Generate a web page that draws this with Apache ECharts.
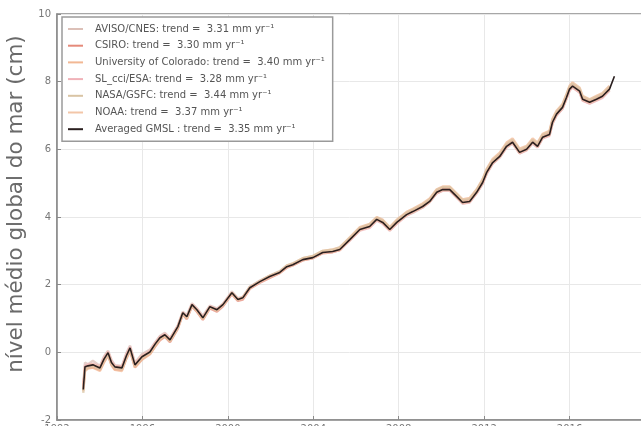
<!DOCTYPE html>
<html>
<head>
<meta charset="utf-8">
<script src="https://cdn.jsdelivr.net/npm/echarts@6/dist/echarts.min.js"></script>
<style>
  html, body { margin: 0; padding: 0; background: #fff; }
  #chart { width: 641px; height: 426px; }
</style>
</head>
<body>
<div id="chart"></div>
<script>
// Sample times (decimal years)
const years = [1993.23, 1993.31, 1993.45, 1993.68, 1994.01, 1994.20, 1994.39, 1994.55, 1994.71, 1995.04,
  1995.25, 1995.42, 1995.65, 1995.98, 1996.35, 1996.60, 1996.82, 1997.05, 1997.29, 1997.66,
  1997.89, 1998.08, 1998.32, 1998.55, 1998.83, 1999.16, 1999.49, 1999.77, 2000.19, 2000.47,
  2000.70, 2001.03, 2001.50, 2001.96, 2002.43, 2002.76, 2003.04, 2003.51, 2003.98, 2004.44,
  2004.91, 2005.24, 2005.71, 2006.18, 2006.64, 2006.97, 2007.25, 2007.58, 2007.91, 2008.37,
  2008.66, 2009.12, 2009.45, 2009.78, 2010.06, 2010.39, 2010.71, 2010.99, 2011.32, 2011.65,
  2011.93, 2012.12, 2012.40, 2012.73, 2013.05, 2013.33, 2013.66, 2013.99, 2014.27, 2014.50,
  2014.74, 2015.06, 2015.20, 2015.39, 2015.67, 2015.86, 2016.00, 2016.14, 2016.47, 2016.61,
  2016.94, 2017.26, 2017.54, 2017.87, 2018.10];

// Global mean sea level per product (cm)
const aviso = [-0.95, -0.30, -0.35, -0.25, -0.40, -0.12, 0.05, -0.22, -0.38, -0.40,
  -0.02, 0.20, -0.30, -0.05, 0.08, 0.30, 0.48, 0.58, 0.42, 0.80,
  1.20, 1.10, 1.45, 1.30, 1.08, 1.38, 1.30, 1.44, 1.80, 1.60,
  1.64, 1.94, 2.12, 2.26, 2.38, 2.55, 2.60, 2.75, 2.82, 2.96,
  2.98, 3.05, 3.32, 3.62, 3.70, 3.90, 3.82, 3.60, 3.82, 4.05,
  4.12, 4.28, 4.44, 4.70, 4.78, 4.78, 4.58, 4.40, 4.44, 4.70,
  4.98, 5.28, 5.58, 5.76, 6.05, 6.18, 5.88, 5.98, 6.18, 6.06,
  6.34, 6.42, 6.76, 7.00, 7.20, 7.50, 7.74, 7.84, 7.68, 7.45,
  7.36, 7.45, 7.54, 7.74];
const csiro = [-1.00, -0.50, -0.46, -0.44, -0.52, -0.28, -0.08, -0.36, -0.50, -0.52,
  -0.18, 0.06, -0.44, -0.20, -0.05, 0.18, 0.36, 0.46, 0.30, 0.70,
  1.12, 0.98, 1.36, 1.20, 0.96, 1.30, 1.20, 1.36, 1.72, 1.52,
  1.56, 1.88, 2.06, 2.20, 2.34, 2.50, 2.57, 2.72, 2.78, 2.93,
  2.96, 3.02, 3.34, 3.66, 3.76, 3.97, 3.88, 3.66, 3.88, 4.10,
  4.20, 4.34, 4.50, 4.77, 4.85, 4.84, 4.64, 4.46, 4.50, 4.77,
  5.06, 5.36, 5.66, 5.84, 6.13, 6.25, 5.95, 6.04, 6.25, 6.13,
  6.40, 6.48, 6.84, 7.08, 7.28, 7.58, 7.82, 7.90, 7.75, 7.52,
  7.42, 7.52, 7.60, 7.82];
const colorado = [-1.15, -0.55, -0.48, -0.45, -0.55, -0.30, -0.10, -0.38, -0.52, -0.55,
  -0.18, 0.05, -0.45, -0.22, -0.06, 0.18, 0.38, 0.48, 0.32, 0.72,
  1.15, 1.00, 1.38, 1.22, 0.98, 1.32, 1.24, 1.40, 1.76, 1.56,
  1.62, 1.92, 2.10, 2.26, 2.38, 2.56, 2.62, 2.78, 2.84, 3.00,
  3.04, 3.10, 3.40, 3.70, 3.80, 4.00, 3.92, 3.70, 3.92, 4.15,
  4.24, 4.40, 4.55, 4.82, 4.90, 4.90, 4.70, 4.52, 4.56, 4.82,
  5.12, 5.42, 5.72, 5.90, 6.20, 6.32, 6.02, 6.10, 6.32, 6.20,
  6.46, 6.55, 6.90, 7.14, 7.34, 7.64, 7.88, 7.98, 7.82, 7.58,
  7.48, 7.58, 7.66, 7.88];
const slcci = [-1.05, -0.40, -0.36, -0.34, -0.42, -0.16, 0.02, -0.26, -0.40, -0.42,
  -0.06, 0.16, -0.34, -0.10, 0.04, 0.28, 0.46, 0.54, 0.40, 0.78,
  1.18, 1.06, 1.42, 1.28, 1.04, 1.36, 1.27, 1.42, 1.77, 1.57,
  1.62, 1.92, 2.10, 2.25, 2.37, 2.54, 2.60, 2.74, 2.80, 2.94,
  2.97, 3.02, 3.30, 3.60, 3.68, 3.90, 3.80, 3.60, 3.80, 4.04,
  4.14, 4.28, 4.44, 4.70, 4.78, 4.78, 4.58, 4.40, 4.43, 4.70,
  4.99, 5.28, 5.58, 5.76, 6.06, 6.18, 5.88, 5.97, 6.18, 6.06,
  6.32, 6.40, 6.76, 7.00, 7.20, 7.50, 7.74, 7.83, 7.68, 7.44,
  7.35, 7.44, 7.52, 7.74];
const nasa = [-1.20, -0.52, -0.45, -0.40, -0.50, -0.24, -0.06, -0.34, -0.46, -0.50,
  -0.14, 0.10, -0.40, -0.16, -0.02, 0.22, 0.40, 0.50, 0.34, 0.74,
  1.16, 1.02, 1.40, 1.24, 1.00, 1.34, 1.24, 1.40, 1.76, 1.56,
  1.62, 1.93, 2.11, 2.27, 2.40, 2.57, 2.63, 2.78, 2.85, 3.00,
  3.03, 3.10, 3.38, 3.68, 3.78, 3.98, 3.90, 3.68, 3.90, 4.13,
  4.22, 4.37, 4.52, 4.80, 4.88, 4.88, 4.68, 4.50, 4.53, 4.80,
  5.10, 5.40, 5.68, 5.86, 6.16, 6.28, 5.98, 6.07, 6.28, 6.16,
  6.43, 6.52, 6.87, 7.11, 7.31, 7.62, 7.85, 7.94, 7.79, 7.55,
  7.46, 7.55, 7.64, 7.85];
const noaa = [-1.08, -0.44, -0.40, -0.36, -0.44, -0.20, 0.00, -0.30, -0.42, -0.45,
  -0.10, 0.12, -0.36, -0.12, 0.02, 0.26, 0.44, 0.52, 0.38, 0.76,
  1.16, 1.04, 1.40, 1.26, 1.02, 1.34, 1.26, 1.40, 1.75, 1.55,
  1.60, 1.90, 2.08, 2.23, 2.35, 2.52, 2.58, 2.73, 2.79, 2.94,
  2.97, 3.03, 3.32, 3.62, 3.71, 3.92, 3.83, 3.62, 3.83, 4.06,
  4.15, 4.30, 4.45, 4.72, 4.80, 4.80, 4.60, 4.42, 4.45, 4.72,
  5.01, 5.31, 5.60, 5.78, 6.08, 6.20, 5.90, 5.99, 6.20, 6.08,
  6.35, 6.43, 6.79, 7.03, 7.23, 7.53, 7.77, 7.86, 7.71, 7.47,
  7.38, 7.47, 7.56, 7.77];
const averaged = [-1.10, -0.43, -0.40, -0.37, -0.46, -0.20, -0.01, -0.30, -0.43, -0.46,
  -0.10, 0.13, -0.37, -0.13, 0.01, 0.25, 0.43, 0.52, 0.37, 0.76,
  1.17, 1.05, 1.41, 1.26, 1.02, 1.35, 1.26, 1.41, 1.76, 1.56,
  1.61, 1.91, 2.09, 2.24, 2.36, 2.53, 2.59, 2.74, 2.80, 2.95,
  2.98, 3.04, 3.33, 3.63, 3.72, 3.93, 3.84, 3.63, 3.84, 4.07,
  4.16, 4.31, 4.46, 4.73, 4.81, 4.81, 4.61, 4.43, 4.46, 4.73,
  5.02, 5.32, 5.61, 5.79, 6.09, 6.21, 5.91, 6.00, 6.21, 6.09,
  6.36, 6.44, 6.80, 7.04, 7.24, 7.54, 7.78, 7.87, 7.72, 7.48,
  7.39, 7.48, 7.57, 7.78, 8.16];

// Legend entries
const seriesNames = [
  'AVISO/CNES: trend =  3.31 mm yr\u207B\u00B9',
  'CSIRO: trend =  3.30 mm yr\u207B\u00B9',
  'University of Colorado: trend =  3.40 mm yr\u207B\u00B9',
  'SL_cci/ESA: trend =  3.28 mm yr\u207B\u00B9',
  'NASA/GSFC: trend =  3.44 mm yr\u207B\u00B9',
  'NOAA: trend =  3.37 mm yr\u207B\u00B9',
  'Averaged GMSL : trend =  3.35 mm yr\u207B\u00B9'
];
const seriesValues = [aviso, csiro, colorado, slcci, nasa, noaa, averaged];
const seriesColors = ['#dcc0b8', '#e58a7a', '#f2b894', '#f0b2b8', '#d9c4a4', '#f3c6a8', '#2a1f1f'];

const yTicks = { min: -2, max: 10, interval: 2 };
const xTicks = { min: 1992, max: 2020, interval: 4 };

function pairs(vals) {
  return vals.map((v, i) => [years[i], v]);
}

const chart = echarts.init(document.getElementById('chart'), null, { renderer: 'canvas' });

const series = seriesNames.map((name, i) => {
  const last = i === seriesNames.length - 1;
  return {
    name: name,
    type: 'line',
    data: pairs(seriesValues[i]),
    showSymbol: false,
    symbol: 'none',
    smooth: false,
    z: last ? 5 : 2,
    lineStyle: {
      color: seriesColors[i],
      width: last ? 1.6 : 2.4,
      opacity: last ? 1 : 0.75
    },
    itemStyle: { color: seriesColors[i] }
  };
});

chart.setOption({
  animation: false,
  backgroundColor: '#ffffff',
  textStyle: { fontFamily: 'DejaVu Sans' },
  grid: {
    left: 57, top: 14, right: -14, bottom: 6,
    outerBoundsMode: 'none',
    containLabel: false,
    show: true, borderColor: '#8a8a8a', borderWidth: 1.5, backgroundColor: 'transparent'
  },
  legend: {
    orient: 'vertical',
    left: 62, top: 17,
    backgroundColor: '#ffffff',
    borderColor: '#9a9a9a',
    borderWidth: 1.5,
    borderRadius: 0,
    padding: [6, 8, 6, 6],
    itemWidth: 15,
    itemHeight: 2,
    itemGap: 4.7,
    icon: 'rect',
    textStyle: { fontSize: 10, color: '#555', lineHeight: 12, fontFamily: 'DejaVu Sans', padding: [0, 0, 0, 7] },
    data: seriesNames
  },
  xAxis: {
    type: 'value',
    min: xTicks.min, max: xTicks.max, interval: xTicks.interval,
    axisLine: { show: true, onZero: false, lineStyle: { color: '#8a8a8a', width: 1.5 } },
    axisTick: { show: true, inside: true, length: 4, lineStyle: { color: '#8a8a8a' } },
    splitLine: { show: true, lineStyle: { color: '#e8e8e8', width: 1 } },
    axisLabel: { fontSize: 10, color: '#777', margin: 4, formatter: v => String(v) }
  },
  yAxis: {
    type: 'value',
    min: yTicks.min, max: yTicks.max, interval: yTicks.interval,
    name: 'nível médio global do mar (cm)',
    nameLocation: 'middle',
    nameGap: 26,
    nameTextStyle: { fontSize: 21.5, color: '#6a6a6a', fontFamily: 'DejaVu Sans', padding: [0, 0, 0, 26] },
    axisLine: { show: true, onZero: false, lineStyle: { color: '#8a8a8a', width: 1.5 } },
    axisTick: { show: true, inside: true, length: 4, lineStyle: { color: '#8a8a8a' } },
    splitLine: { show: true, lineStyle: { color: '#e8e8e8', width: 1 } },
    axisLabel: { fontSize: 10, color: '#777', margin: 6 }
  },
  series: series
});
</script>
</body>
</html>
